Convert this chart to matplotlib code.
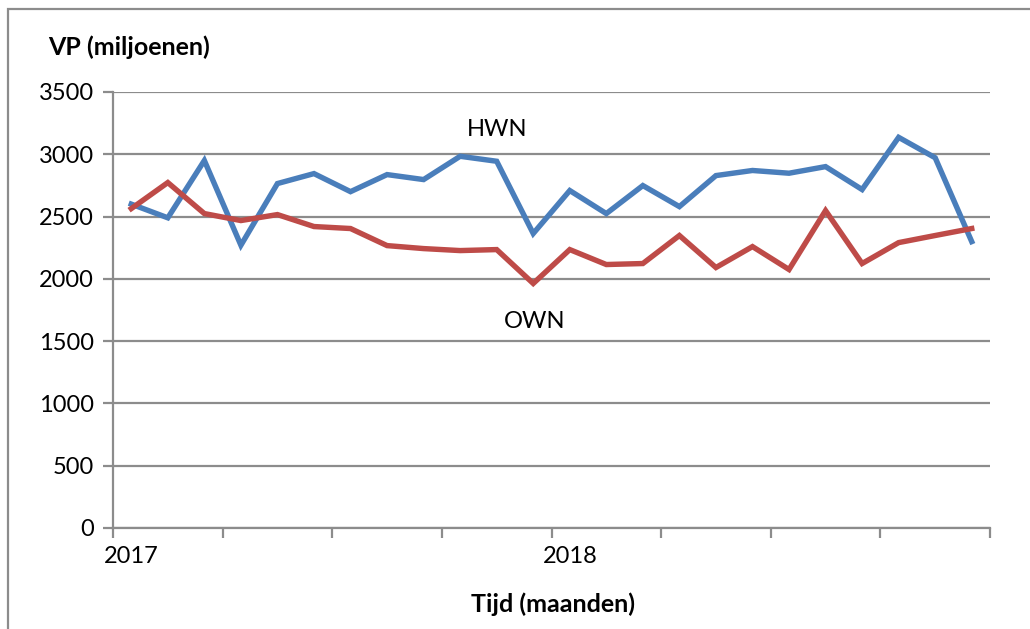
import matplotlib.pyplot as plt
from matplotlib.patches import Rectangle

# monthly values, Jan 2017 .. Dec 2018
hwn = [2600, 2490, 2950, 2270, 2765, 2845, 2700, 2837, 2797, 2984, 2944, 2364,
       2709, 2524, 2749, 2580, 2829, 2870, 2848, 2901, 2717, 3136, 2972, 2299]
own = [2564, 2773, 2524, 2468, 2516, 2420, 2404, 2267, 2243, 2227, 2235, 1963,
       2235, 2115, 2123, 2348, 2091, 2259, 2075, 2548, 2123, 2291, 2348, 2404]
year_labels = ["2017", "2018"]
year_pos = [0, 12]
y_ticks = [0, 500, 1000, 1500, 2000, 2500, 3000, 3500]

plt.rcParams["font.family"] = ["Lato", "DejaVu Sans"]
grey = "#8c8c8c"
fs = 17

fig = plt.figure(figsize=(10.3, 6.29), dpi=100)
ax = fig.add_axes([113 / 1030, 1 - 528 / 629, 877 / 1030, 436 / 629])

# outer chart frame (cut off at right and bottom of the image)
fig.patches.append(Rectangle((8 / 1030, -0.05), 1.1, 1 - 9 / 629 + 0.05,
                             transform=fig.transFigure, fill=False,
                             edgecolor=grey, linewidth=1.6))

x = range(len(hwn))
ax.plot(x, hwn, color="#4a7ebb", linewidth=3.9, solid_joinstyle="miter")
ax.plot(x, own, color="#be4b48", linewidth=3.9, solid_joinstyle="miter")

ax.set_xlim(-0.5, len(hwn) - 0.5)
ax.set_ylim(0, 3500)
ax.set_yticks(y_ticks)
ax.yaxis.grid(True, color=grey, linewidth=1.6)
ax.set_axisbelow(True)

ax.set_xticks([i - 0.5 for i in range(0, len(hwn) + 1, 3)])
ax.set_xticklabels([])
ax.set_xticks(year_pos, minor=True)
ax.set_xticklabels(year_labels, minor=True)
ax.tick_params(axis="x", which="major", length=7, width=1.6, color=grey)
ax.tick_params(axis="x", which="minor", length=0, pad=13, labelsize=fs)
ax.tick_params(axis="y", length=7, width=1.6, color=grey, labelsize=fs, pad=7)

for s in ["top", "right"]:
    ax.spines[s].set_visible(False)
for s in ["left", "bottom"]:
    ax.spines[s].set_color(grey)
    ax.spines[s].set_linewidth(1.6)

fig.text(48 / 1030, 1 - 47 / 629, "VP (miljoenen)", fontsize=18,
         fontweight="bold", va="center", ha="left")
fig.text(553 / 1030, 1 - 604 / 629, "Tijd (maanden)", fontsize=18,
         fontweight="bold", va="center", ha="center")
fig.text(497 / 1030, 1 - 129 / 629, "HWN", fontsize=fs, va="center", ha="center")
fig.text(535 / 1030, 1 - 322 / 629, "OWN", fontsize=fs, va="center", ha="center")

fig.savefig("out.png", dpi=100)
